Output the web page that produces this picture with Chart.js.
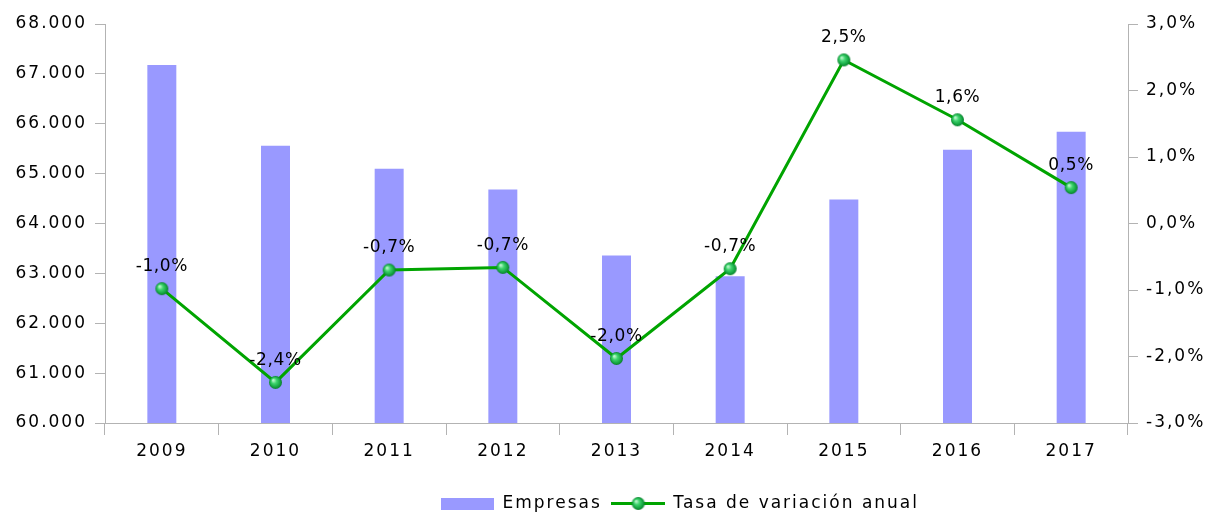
<!DOCTYPE html>
<html>
<head>
<meta charset="utf-8">
<script src="https://cdn.jsdelivr.net/npm/chart.js@4/dist/chart.umd.min.js"></script>
<style>html,body{margin:0;padding:0;background:#fff;overflow:hidden}</style>
</head>
<body>
<canvas id="myChart" width="1208" height="513"></canvas>
<script>
var years = ['2009', '2010', '2011', '2012', '2013', '2014', '2015', '2016', '2017'];
var empresas = [67180, 65560, 65100, 64680, 63360, 62940, 64480, 65480, 65840];
var tasa = [-0.98, -2.39, -0.70, -0.66, -2.03, -0.68, 2.46, 1.56, 0.54];
var leftRange = [60000, 68000, 1000];
var rightRange = [-3, 3, 1];

var barColor = '#9999ff';
var lineColor = '#00a400';
var axisColor = '#b3b3b3';

Chart.defaults.font.family = 'DejaVu Sans';
Chart.defaults.font.size = 17;
Chart.defaults.color = '#000';

function fmtMiles(v) {
    return Math.round(v).toString().replace(/\B(?=(\d{3})+(?!\d))/g, '.');
}
function fmtPct(v) {
    return v.toFixed(1).replace('.', ',') + '%';
}

// green sphere used for the line markers
function makeSphere(r) {
    var c = document.createElement('canvas');
    c.width = r * 2 + 2; c.height = r * 2 + 2;
    var g = c.getContext('2d');
    var cx = r + 1, cy = r + 1;
    var grad = g.createRadialGradient(cx - r * 0.35, cy - r * 0.35, r * 0.1, cx, cy, r);
    grad.addColorStop(0, '#b6f5c8');
    grad.addColorStop(0.35, '#3fd46e');
    grad.addColorStop(0.8, '#12a23e');
    grad.addColorStop(1, '#0b7a2c');
    g.fillStyle = grad;
    g.beginPath(); g.arc(cx, cy, r, 0, Math.PI * 2); g.fill();
    return c;
}
var sphere = makeSphere(6.5);

function legendBar() {
    var c = document.createElement('canvas');
    c.width = 53; c.height = 12;
    var g = c.getContext('2d');
    g.fillStyle = barColor;
    g.fillRect(0, 0, 53, 12);
    return c;
}
function legendLine() {
    var c = document.createElement('canvas');
    c.width = 54; c.height = 15;
    var g = c.getContext('2d');
    g.strokeStyle = lineColor; g.lineWidth = 3;
    g.beginPath(); g.moveTo(0, 7.5); g.lineTo(54, 7.5); g.stroke();
    g.drawImage(sphere, 27 - sphere.width / 2, 7.5 - sphere.height / 2);
    return c;
}

// wide letter spacing like the original rendering
var spacing = {
    id: 'spacing',
    beforeLayout: function (chart) { chart.ctx.letterSpacing = '2px'; },
    beforeDraw: function (chart) { chart.ctx.letterSpacing = '2px'; },
    afterLayout: function (chart) {
        // legend sits right of centre in the original
        chart.legend.left += 76;
        chart.legend.right += 76;
    }
};

var pointLabels = {
    id: 'pointLabels',
    afterDatasetsDraw: function (chart) {
        var meta = chart.getDatasetMeta(1);
        var ctx = chart.ctx;
        ctx.save();
        ctx.letterSpacing = '0.6px';
        ctx.font = '17px "DejaVu Sans"';
        ctx.fillStyle = '#000';
        ctx.textAlign = 'center';
        ctx.textBaseline = 'middle';
        meta.data.forEach(function (pt, i) {
            ctx.fillText(fmtPct(tasa[i]), pt.x, pt.y - 22);
        });
        ctx.restore();
    }
};

var ctx = document.getElementById('myChart').getContext('2d');
var myChart = new Chart(ctx, {
    type: 'bar',
    data: {
        labels: years,
        datasets: [{
            label: 'Empresas',
            data: empresas,
            backgroundColor: barColor,
            yAxisID: 'y',
            barPercentage: 0.255,
            categoryPercentage: 1,
            order: 1
        }, {
            type: 'line',
            label: 'Tasa de variación anual',
            data: tasa,
            yAxisID: 'y1',
            borderColor: lineColor,
            borderWidth: 3,
            pointStyle: sphere,
            pointRadius: 6,
            tension: 0,
            order: 0
        }]
    },
    options: {
        responsive: false,
        animation: false,
        layout: { padding: { top: 24, bottom: -9, left: 0, right: 0 } },
        plugins: {
            tooltip: { enabled: false },
            legend: {
                position: 'bottom',
                labels: {
                    usePointStyle: true,
                    pointStyleWidth: 53,
                    padding: 10,
                    generateLabels: function () {
                        return [
                            { text: 'Empresas', pointStyle: legendBar(), fillStyle: barColor, strokeStyle: barColor, lineWidth: 0, datasetIndex: 0 },
                            { text: 'Tasa de variación anual', pointStyle: legendLine(), fillStyle: lineColor, strokeStyle: lineColor, lineWidth: 0, datasetIndex: 1 }
                        ];
                    }
                }
            }
        },
        scales: {
            x: {
                grid: { drawOnChartArea: false, offset: true, tickLength: 12, color: axisColor },
                border: { color: axisColor },
                ticks: { padding: 6, maxRotation: 0 },
                afterFit: function (s) { s.height = 62; }
            },
            y: {
                position: 'left',
                min: leftRange[0], max: leftRange[1],
                grid: { drawOnChartArea: false, tickLength: 10, color: axisColor },
                border: { color: axisColor },
                ticks: { stepSize: leftRange[2], padding: 8, callback: function (v) { return fmtMiles(v); } },
                afterFit: function (s) { s.width = 105; }
            },
            y1: {
                position: 'right',
                min: rightRange[0], max: rightRange[1],
                grid: { drawOnChartArea: false, tickLength: 10, color: axisColor },
                border: { color: axisColor },
                ticks: { stepSize: rightRange[2], padding: 8, callback: function (v) { return fmtPct(v); } },
                afterFit: function (s) { s.width = 80; }
            }
        }
    },
    plugins: [spacing, pointLabels]
});
</script>
</body>
</html>
